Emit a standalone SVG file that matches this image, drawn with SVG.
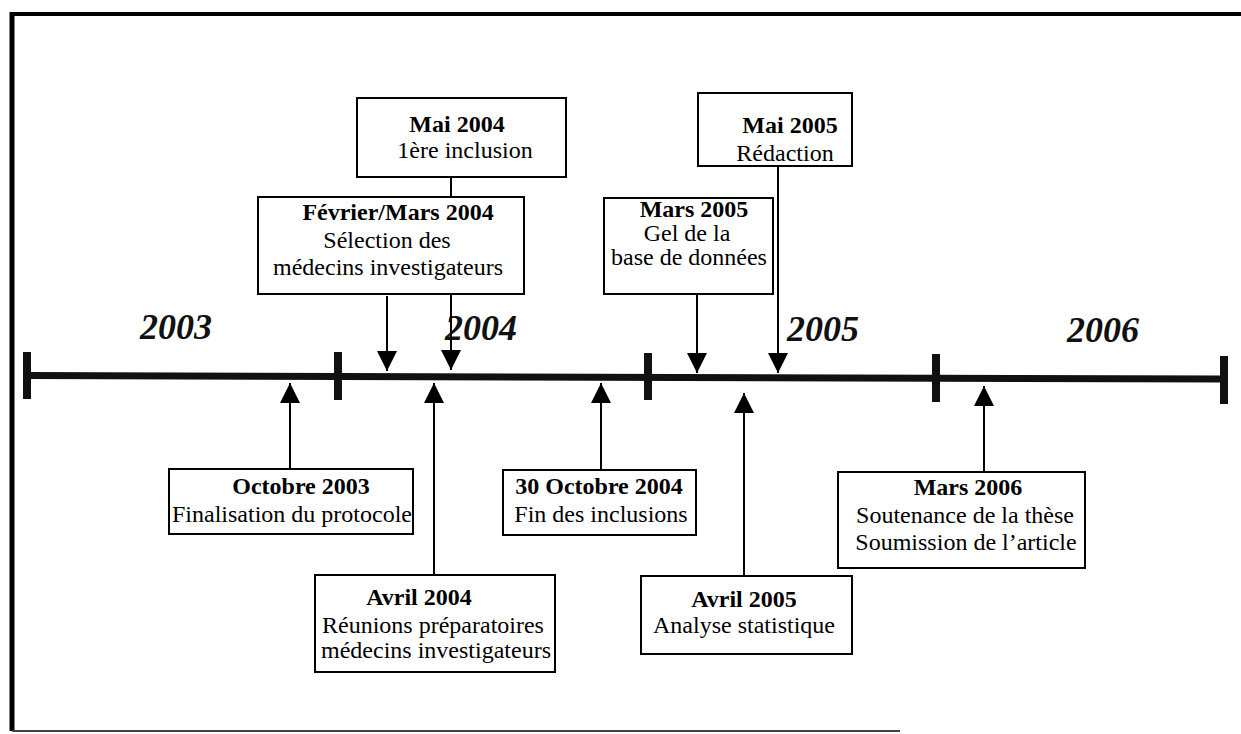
<svg xmlns="http://www.w3.org/2000/svg" width="1241" height="734" viewBox="0 0 1241 734">
<style>
.box{fill:#fff;stroke:#000;stroke-width:2}
.t{font-family:"Liberation Serif","Times New Roman",serif;font-size:24px;fill:#000;text-anchor:middle}
.b{font-weight:bold}
.yr{font-family:"Liberation Serif","Times New Roman",serif;font-size:36px;font-weight:bold;font-style:italic;fill:#111}
.c{stroke:#000;stroke-width:2;fill:none}
</style>
<defs>
<marker id="ah" viewBox="0 0 10 10" refX="10" refY="5" markerWidth="20" markerHeight="20" markerUnits="userSpaceOnUse" orient="auto"><path d="M0,0 L10,5 L0,10 z" fill="#000"/></marker>
</defs>
<rect width="1241" height="734" fill="#fff"/>
<g id="frame">
<line x1="10" y1="14" x2="1241" y2="14" stroke="#000" stroke-width="4"/>
<line x1="12" y1="12" x2="12" y2="731" stroke="#000" stroke-width="5"/>
<line x1="12" y1="731" x2="900" y2="731" stroke="#444" stroke-width="2"/>
</g>
<g id="timeline">
<polygon points="27,372 1224,375.5 1224,382.5 27,379" fill="#111"/>
<rect x="23" y="352" width="8" height="47" fill="#111"/>
<rect x="334" y="352" width="8" height="48" fill="#111"/>
<rect x="644" y="353" width="8" height="47" fill="#111"/>
<rect x="932" y="354" width="8" height="48" fill="#111"/>
<rect x="1220" y="356" width="8" height="48" fill="#111"/>
<text class="yr" x="140" y="339">2003</text>
<text class="yr" x="445" y="340">2004</text>
<text class="yr" x="787" y="341">2005</text>
<text class="yr" x="1067" y="342">2006</text>
</g>
<g id="connectors">
<line class="c" x1="387" y1="296" x2="387" y2="371" marker-end="url(#ah)"/>
<line class="c" x1="451" y1="178" x2="451" y2="370" marker-end="url(#ah)"/>
<line class="c" x1="697" y1="294" x2="697" y2="373" marker-end="url(#ah)"/>
<line class="c" x1="778" y1="166" x2="778" y2="373" marker-end="url(#ah)"/>
<line class="c" x1="290" y1="469" x2="290" y2="383" marker-end="url(#ah)"/>
<line class="c" x1="434" y1="575" x2="434" y2="383" marker-end="url(#ah)"/>
<line class="c" x1="601" y1="470" x2="601" y2="383" marker-end="url(#ah)"/>
<line class="c" x1="744" y1="576" x2="744" y2="393" marker-end="url(#ah)"/>
<line class="c" x1="984" y1="472" x2="984" y2="386" marker-end="url(#ah)"/>
</g>
<g id="mai2004">
<rect class="box" x="357" y="98" width="209" height="79"/>
<text class="t b" x="457" y="132">Mai 2004</text>
<text class="t" x="465" y="158">1ère inclusion</text>
</g>
<g id="fevmars2004">
<rect class="box" x="258" y="197" width="266" height="97"/>
<text class="t b" x="398" y="220">Février/Mars 2004</text>
<text class="t" x="387" y="248">Sélection des</text>
<text class="t" x="388" y="275">médecins investigateurs</text>
</g>
<g id="mai2005">
<rect class="box" x="698" y="93" width="154" height="73"/>
<text class="t b" x="790" y="133">Mai 2005</text>
<text class="t" x="785" y="161">Rédaction</text>
</g>
<g id="mars2005">
<rect class="box" x="604" y="198" width="169" height="96"/>
<text class="t b" x="694" y="217">Mars 2005</text>
<text class="t" x="687" y="241">Gel de la</text>
<text class="t" x="689" y="265">base de données</text>
</g>
<g id="oct2003">
<rect class="box" x="169" y="469" width="244" height="65"/>
<text class="t b" x="301" y="494">Octobre 2003</text>
<text class="t" x="292" y="522">Finalisation du protocole</text>
</g>
<g id="oct2004">
<rect class="box" x="503" y="470" width="193" height="65"/>
<text class="t b" x="599" y="494">30 Octobre 2004</text>
<text class="t" x="601" y="522">Fin des inclusions</text>
</g>
<g id="avril2004">
<rect class="box" x="315" y="575" width="240" height="97"/>
<text class="t b" x="419" y="605">Avril 2004</text>
<text class="t" x="433" y="633">Réunions préparatoires</text>
<text class="t" x="436" y="658">médecins investigateurs</text>
</g>
<g id="avril2005">
<rect class="box" x="641" y="576" width="211" height="78"/>
<text class="t b" x="744" y="607">Avril 2005</text>
<text class="t" x="744" y="633">Analyse statistique</text>
</g>
<g id="mars2006">
<rect class="box" x="838" y="472" width="247" height="96"/>
<text class="t b" x="968" y="495">Mars 2006</text>
<text class="t" x="965" y="523">Soutenance de la thèse</text>
<text class="t" x="966" y="550">Soumission de l’article</text>
</g>
</svg>
